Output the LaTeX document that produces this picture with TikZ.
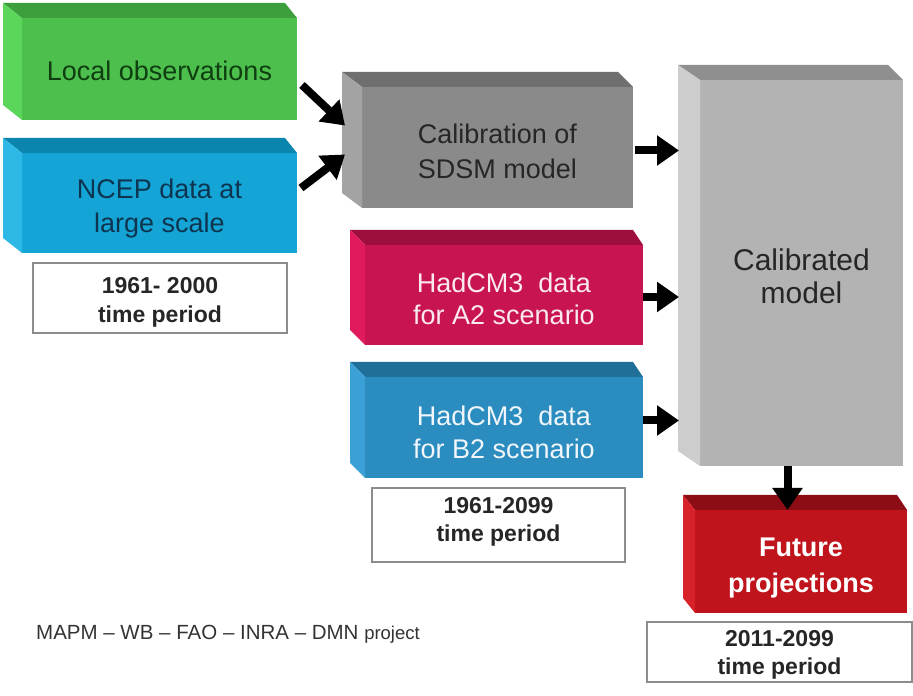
\documentclass[tikz,border=0pt]{standalone}
\usepackage{fontspec}
\setmainfont{Liberation Sans}
\usetikzlibrary{arrows.meta,calc}

% colour set: front / top / side / text
\definecolor{grF}{HTML}{4DBF4D}\definecolor{grT}{HTML}{3C9F3C}\definecolor{grS}{HTML}{5BD65B}\definecolor{grX}{HTML}{0F3F10}
\definecolor{ncF}{HTML}{14A5D6}\definecolor{ncT}{HTML}{0B84AE}\definecolor{ncS}{HTML}{2DB8E6}\definecolor{ncX}{HTML}{0D3550}
\definecolor{gyF}{HTML}{8A8A8A}\definecolor{gyT}{HTML}{6F6F6F}\definecolor{gyS}{HTML}{A3A3A3}\definecolor{gyX}{HTML}{262626}
\definecolor{lgF}{HTML}{B3B3B3}\definecolor{lgT}{HTML}{8F8F8F}\definecolor{lgS}{HTML}{CDCDCD}
\definecolor{pkF}{HTML}{C81450}\definecolor{pkT}{HTML}{9F0F3E}\definecolor{pkS}{HTML}{E01A5C}\definecolor{pkX}{HTML}{FBE9F0}
\definecolor{blF}{HTML}{2B8CC0}\definecolor{blT}{HTML}{1F6F99}\definecolor{blS}{HTML}{3AA0D6}\definecolor{blX}{HTML}{F0F6FA}
\definecolor{rdF}{HTML}{C0141C}\definecolor{rdT}{HTML}{8C0E14}\definecolor{rdS}{HTML}{D8222A}
\definecolor{frame}{HTML}{8C8C8C}

% top and left faces of an extruded box (back face shifted up-left)
\newcommand{\boxfaces}[5]{% node, top colour, side colour, dx left, dx right
  \fill[#2] (#1.north west) -- ++(-#4,15) -- ($(#1.north east)+(-#5,15)$) -- (#1.north east) -- cycle;
  \fill[#3] (#1.north west) -- ++(-#4,15) -- ($(#1.south west)+(-#4,15)$) -- (#1.south west) -- cycle;
}

\begin{document}
\begin{tikzpicture}[x=1pt,y=1pt,
  face/.style={inner sep=0pt,outer sep=0pt},
  lbl/.style={inner sep=0pt,align=center,font=\fontsize{27}{34}\selectfont},
  period/.style={draw=frame,line width=1.4pt,fill=white,inner sep=0pt},
  plbl/.style={inner sep=0pt,align=center,font=\bfseries\fontsize{23}{29}\selectfont,text=black!85},
  flow/.style={line width=8pt,-{Triangle[length=22pt,width=29pt]}}]
\useasboundingbox (0,0) rectangle (913,696);

% input boxes
\node[face,fill=grF,minimum width=275pt,minimum height=102pt] (obs) at (159.5,627) {};
\boxfaces{obs}{grT}{grS}{19}{12}
\node[lbl,text=grX] (obsT) at ([yshift=-2pt]obs.center) {Local observations};
\node[face,fill=ncF,minimum width=275pt,minimum height=100pt] (ncep) at (159.5,493) {};
\boxfaces{ncep}{ncT}{ncS}{19}{12}
\node[lbl,text=ncX] (ncepT) at ([yshift=-6pt]ncep.center) {NCEP data at\\large scale};
\node[period,minimum width=254pt,minimum height=70pt] (p1) at (160,398) {};
\node[plbl] (p1T) at ([yshift=-4pt]p1.center) {1961- 2000\\time period};

% calibration
\node[face,fill=gyF,minimum width=271pt,minimum height=121pt] (calib) at (497.5,548.5) {};
\boxfaces{calib}{gyT}{gyS}{20}{15}
\node[lbl,text=gyX,font=\fontsize{27}{35}\selectfont] (calibT) at ([yshift=-4pt]calib.center) {Calibration of\\SDSM model};

% scenarios
\node[face,fill=pkF,minimum width=278pt,minimum height=100pt] (a2) at (504,401) {};
\boxfaces{a2}{pkT}{pkS}{15}{10}
\node[lbl,text=pkX,font=\fontsize{27}{32.5}\selectfont] (a2T) at ([yshift=-4pt]a2.center) {HadCM3\ \ data\\for A2 scenario};
\node[face,fill=blF,minimum width=278pt,minimum height=101pt] (b2) at (504,268.5) {};
\boxfaces{b2}{blT}{blS}{15}{10}
\node[lbl,text=blX,font=\fontsize{27}{33}\selectfont] (b2T) at ([yshift=-5pt]b2.center) {HadCM3\ \ data\\for B2 scenario};
\node[period,minimum width=253pt,minimum height=74pt] (p2) at (498.5,171) {};
\node[plbl,font=\bfseries\fontsize{23}{28}\selectfont] (p2T) at ([yshift=3pt]p2.center) {1961-2099\\time period};

% calibrated model
\node[face,fill=lgF,minimum width=203pt,minimum height=386pt] (model) at (801.5,423) {};
\boxfaces{model}{lgT}{lgS}{22}{15}
\node[lbl,text=gyX,font=\fontsize{30}{33}\selectfont] (modelT) at ([yshift=-3pt]model.center) {Calibrated\\model};
\coordinate (modelL) at ([xshift=-21pt]model.west);

% projections
\node[face,fill=rdF,minimum width=212pt,minimum height=103pt] (future) at (801,134.5) {};
\boxfaces{future}{rdT}{rdS}{12}{10}
\node[lbl,text=white,font=\bfseries\fontsize{27}{36}\selectfont] (futureT) at ([yshift=-7pt]future.center) {Future\\projections};
\node[period,minimum width=265pt,minimum height=60pt] (p3) at (779.5,44) {};
\node[plbl,font=\bfseries\fontsize{23}{28}\selectfont] (p3T) at ([yshift=-3pt]p3.center) {2011-2099\\time period};

% footer
\node[font=\fontsize{20.5}{24}\selectfont,text=black!80] (proj) at (228,62) {MAPM -- WB -- FAO -- INRA -- DMN {\fontsize{18.5}{22}\selectfont project}};

% connectors
\draw[flow] ([xshift=5pt,yshift=-16pt]obs.east) -- ([xshift=-17pt,yshift=22pt]calib.west);
\draw[flow] ([xshift=4pt,yshift=15pt]ncep.east) -- ([xshift=-17pt,yshift=-7pt]calib.west);
\draw[flow] ([xshift=2pt,yshift=-3pt]calib.east) -- ([yshift=-3pt]calib.east -| modelL);
\draw[flow] ([yshift=-2pt]a2.east) -- ([yshift=-2pt]a2.east -| modelL);
\draw[flow] ([yshift=7pt]b2.east) -- ([yshift=7pt]b2.east -| modelL);
\draw[flow] ([xshift=-14pt]model.south) -- ([xshift=-14pt]model.south |- future.north);
\end{tikzpicture}
\end{document}
